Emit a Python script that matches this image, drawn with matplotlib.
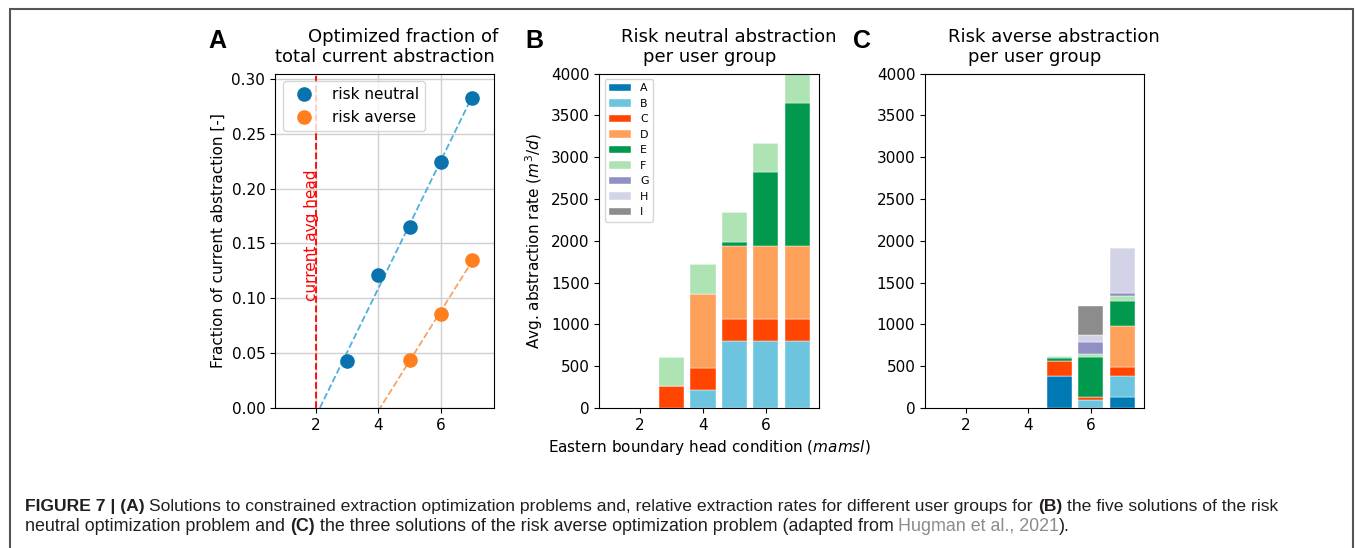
import numpy as np
import matplotlib
matplotlib.use("Agg")
import matplotlib.pyplot as plt
from matplotlib.patches import Rectangle

# === data ===
heads_neutral = [3, 4, 5, 6, 7]
frac_neutral = [0.043, 0.121, 0.165, 0.224, 0.283]
heads_averse = [5, 6, 7]
frac_averse = [0.044, 0.086, 0.135]
current_head = 2

groups = ["A", "B", "C", "D", "E", "F", "G", "H", "I"]
group_colors = ["#0079b5", "#6cc4de", "#ff4500", "#fda05a", "#00994d",
                "#aee3b4", "#9090c4", "#d3d3e8", "#8c8c8c"]

# rows = user groups A..I, columns = heads_neutral
neutral_rates = [
    [0, 0, 0, 0, 0],
    [0, 220, 798, 798, 798],
    [266, 264, 266, 266, 266],
    [0, 880, 876, 876, 876],
    [0, 0, 44, 880, 1712],
    [340, 356, 356, 352, 352],
    [0, 0, 0, 0, 0],
    [0, 0, 0, 0, 0],
    [0, 0, 0, 0, 0],
]
# rows = user groups A..I, columns = heads_averse
averse_rates = [
    [384, 0, 130],
    [0, 92, 254],
    [176, 38, 104],
    [0, 0, 496],
    [36, 482, 292],
    [24, 34, 62],
    [0, 148, 36],
    [0, 84, 534],
    [0, 340, 0],
]

plt.rcParams["font.size"] = 11

W, H = 1355, 548
fig = plt.figure(figsize=(W / 100, H / 100), dpi=100)

bottom = 1 - 408 / H
height = (408 - 73.5) / H
axA = fig.add_axes([275 / W, bottom, 219 / W, height])
axB = fig.add_axes([599.3 / W, bottom, 220 / W, height])
axC = fig.add_axes([925 / W, bottom, 219 / W, height])

# --- panel A ---
axA.grid(True, color="#d0d0d0", lw=1.0)
axA.set_axisbelow(True)
axA.axvline(current_head, color="red", ls="--", lw=1.3)
axA.text(current_head + 0.12, 0.098, "current avg head", rotation=90, color="red",
         ha="right", va="bottom", fontsize=11)

p = np.polyfit(heads_neutral, frac_neutral, 1)
xf = np.array([2, heads_neutral[-1]])
axA.plot(xf, np.polyval(p, xf), ls="--", color="#4fb0e0", lw=1.3)
p = np.polyfit(heads_averse, frac_averse, 1)
xf = np.array([4, heads_averse[-1]])
axA.plot(xf, np.polyval(p, xf), ls="--", color="#f7a266", lw=1.3)

axA.plot(heads_neutral, frac_neutral, "o", ms=9.5, color="#0a72ad", label="risk neutral")
axA.plot(heads_averse, frac_averse, "o", ms=9.5, color="#ff7f1e", label="risk averse")
axA.set_xlim(0.7, 7.7)
axA.set_ylim(0, 0.305)
axA.set_xticks([2, 4, 6])
axA.set_yticks(np.arange(0, 0.31, 0.05))
axA.set_ylabel("Fraction of current abstraction [-]")
axA.legend(loc="upper left", fontsize=11)


# --- stacked bars ---
def stacked(ax, heads, rates):
    base = np.zeros(len(heads))
    for name, col, vals in zip(groups, group_colors, rates):
        ax.bar(heads, vals, width=0.8, bottom=base, color=col, label=name,
               edgecolor="white", linewidth=0.3)
        base = base + np.array(vals)
    ax.set_xlim(0.7, 7.7)
    ax.set_ylim(0, 4000)
    ax.set_xticks([2, 4, 6])
    ax.set_yticks(range(0, 4001, 500))


stacked(axB, heads_neutral, neutral_rates)
axB.set_ylabel("Avg. abstraction rate ($m^3/d$)")
axB.set_xlabel("Eastern boundary head condition ($mamsl$)")
axB.legend(loc="upper left", fontsize=7.9)

stacked(axC, heads_averse, averse_rates)

# titles (two lines, first line sits a bit to the right)
titles = [
    (axA, "Optimized fraction of", "total current abstraction"),
    (axB, "Risk neutral abstraction", "per user group"),
    (axC, "Risk averse abstraction", "per user group"),
]
for ax, l1, l2 in titles:
    ax.text(0.5 + 0.087, 1 + 31.3 / 334.5, l1, transform=ax.transAxes,
            ha="center", va="baseline", fontsize=13)
    ax.text(0.5, 1 + 11.3 / 334.5, l2, transform=ax.transAxes,
            ha="center", va="baseline", fontsize=13)

for lab, x in [("A", 208), ("B", 525), ("C", 853)]:
    fig.text(x / W, 1 - 48 / H, lab, fontsize=18, fontweight="bold",
             family="Liberation Sans", va="baseline")

# --- caption ---
ink = "#231f20"
styles = {
    "b": dict(color=ink, fontweight="bold"),
    "n": dict(color=ink),
    "g": dict(color="#8c8c8c"),
}


def caption_line(x, y, pieces, size):
    text, kind = pieces[0]
    t = fig.text(x, y, text, va="baseline", fontsize=size,
                 family="Liberation Sans", **styles[kind])
    for text, kind in pieces[1:]:
        # leading space -> explicit offset (one space of Liberation Sans)
        gap = 0.278 * size if text.startswith(" ") else 0
        t = axA.annotate(text.lstrip(" "), xy=(1, 0), xycoords=t,
                         xytext=(gap, 0), textcoords="offset points",
                         va="bottom", ha="left", fontsize=size,
                         family="Liberation Sans", annotation_clip=False,
                         **styles[kind])


caption_line(25 / W, 1 - 511 / H, [
    ("FIGURE 7 | (A)", "b"),
    (" Solutions to constrained extraction optimization problems and, relative extraction "
     "rates for different user groups for", "n"),
    (" (B)", "b"),
    (" the five solutions of the risk", "n"),
], 12.6)
caption_line(25 / W, 1 - 531 / H, [
    ("neutral optimization problem and", "n"),
    (" (C)", "b"),
    (" the three solutions of the risk averse optimization problem (adapted from", "n"),
    (" Hugman et al., 2021", "g"),
    (").", "n"),
], 12.9)

# outer frame
fig.patches.append(Rectangle((9.5 / W, -0.05), (1352.5 - 9.5) / W, 1.05 - 8.5 / H,
                             transform=fig.transFigure, fill=False,
                             edgecolor="#555555", lw=1.5))

fig.savefig("out.png", dpi=100)
